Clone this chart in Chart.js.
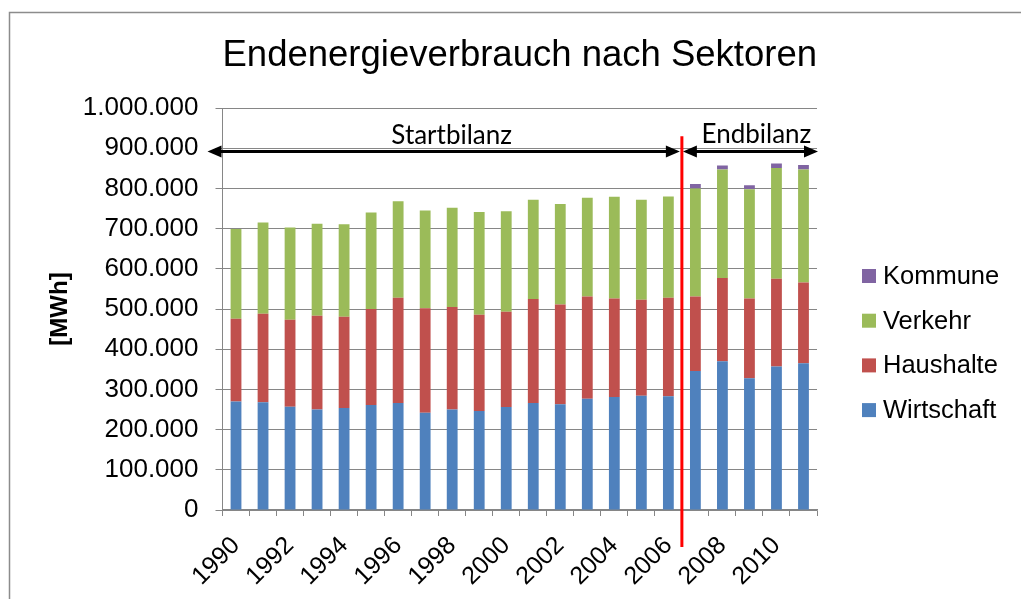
<!DOCTYPE html>
<html>
<head>
<meta charset="utf-8">
<script src="https://cdn.jsdelivr.net/npm/chart.js@4.4.1/dist/chart.umd.min.js"></script>
<style>
  html, body { margin: 0; padding: 0; background: #fff; overflow: hidden; }
  #wrap { width: 1021px; height: 599px; }
</style>
</head>
<body>
<div id="wrap"><canvas id="chart" width="1021" height="599"></canvas></div>
<script>
// Jahre und Werte in MWh
const years = ['1990','1991','1992','1993','1994','1995','1996','1997','1998','1999','2000',
  '2001','2002','2003','2004','2005','2006','2007','2008','2009','2010','2011'];
const wirtschaft = [270000,268000,257000,250000,254000,261000,266000,242000,250000,246000,256000,
  266000,263000,277000,281000,284000,283000,346000,370000,328000,357000,365000];
const haushalte = [206000,220000,216000,233000,227000,239000,262000,260000,255000,240000,237000,
  259000,248000,254000,245000,239000,245000,185000,207000,198000,218000,201000];
const verkehr = [223000,227000,230000,229000,230000,240000,240000,243000,247000,255000,250000,
  247000,250000,246000,253000,249000,252000,269000,270000,272000,276000,281000];
const kommune = [0,0,0,0,0,0,0,0,0,0,0,0,0,0,0,0,0,11000,10000,10000,11000,11000];

const yTicks = [0,100000,200000,300000,400000,500000,600000,700000,800000,900000,1000000];
const lastStartIndex = 16; // 2006 = letztes Jahr der Startbilanz
const arrowValue = 892000;

const fmt = v => String(v).replace(/\B(?=(\d{3})+(?!\d))/g, '.');
const FONT = "'Liberation Sans', Arial, sans-serif";

// Rahmen, Pfeile, rote Linie und Legende
const overlay = {
  id: 'overlay',
  beforeDraw(chart) {
    const ctx = chart.ctx;
    ctx.save();
    ctx.strokeStyle = '#8c8c8c';
    ctx.lineWidth = 1.5;
    ctx.beginPath();
    ctx.moveTo(9.5, 599);
    ctx.lineTo(9.5, 12.5);
    ctx.lineTo(1021, 12.5);
    ctx.stroke();
    ctx.restore();
  },
  afterDatasetsDraw(chart) {
    const ctx = chart.ctx;
    const x = chart.scales.x, y = chart.scales.y;
    const area = chart.chartArea;
    const split = (x.getPixelForValue(lastStartIndex) + x.getPixelForValue(lastStartIndex + 1)) / 2;
    const ay = y.getPixelForValue(arrowValue);

    const arrow = (x1, x2) => {
      ctx.save();
      ctx.strokeStyle = '#000';
      ctx.fillStyle = '#000';
      ctx.lineWidth = 3;
      ctx.beginPath();
      ctx.moveTo(x1 + 10, ay);
      ctx.lineTo(x2 - 10, ay);
      ctx.stroke();
      [[x1, 1], [x2, -1]].forEach(([tx, dir]) => {
        ctx.beginPath();
        ctx.moveTo(tx, ay);
        ctx.lineTo(tx + dir * 14, ay - 6);
        ctx.lineTo(tx + dir * 14, ay + 6);
        ctx.closePath();
        ctx.fill();
      });
      ctx.restore();
    };
    const s1 = area.left - 15, s2 = split - 2;
    const e1 = split + 1, e2 = area.right + 1;
    arrow(s1, s2);
    arrow(e1, e2);

    ctx.save();
    ctx.fillStyle = '#000';
    ctx.font = "26px Lato, 'Open Sans', sans-serif";
    ctx.textAlign = 'center';
    ctx.textBaseline = 'alphabetic';
    ctx.fillText('Startbilanz', (s1 + s2) / 2 + 8, ay - 7);
    ctx.fillText('Endbilanz', (e1 + e2) / 2 + 6, ay - 8);
    ctx.restore();

    ctx.save();
    ctx.strokeStyle = '#ff0000';
    ctx.lineWidth = 3;
    ctx.beginPath();
    ctx.moveTo(split, y.getPixelForValue(930000));
    ctx.lineTo(split, area.bottom + 37);
    ctx.stroke();
    ctx.restore();
  },
  afterDraw(chart) {
    const ctx = chart.ctx;
    const sets = chart.data.datasets.slice().reverse();
    ctx.save();
    ctx.font = '25.5px ' + FONT;
    ctx.textBaseline = 'middle';
    ctx.textAlign = 'left';
    sets.forEach((ds, i) => {
      const cy = 276 + i * 44.7;
      ctx.fillStyle = ds.backgroundColor;
      ctx.fillRect(862, cy - 7, 14, 14);
      ctx.fillStyle = '#000';
      ctx.fillText(ds.label, 883, cy + 1);
    });
    ctx.restore();
  }
};

new Chart(document.getElementById('chart'), {
  type: 'bar',
  data: {
    labels: years,
    datasets: [
      { label: 'Wirtschaft', data: wirtschaft, backgroundColor: '#4f81bd' },
      { label: 'Haushalte', data: haushalte, backgroundColor: '#c0504d' },
      { label: 'Verkehr', data: verkehr, backgroundColor: '#9bbb59' },
      { label: 'Kommune', data: kommune, backgroundColor: '#8064a2' }
    ]
  },
  options: {
    responsive: false,
    animation: false,
    devicePixelRatio: 1,
    layout: { padding: { left: 20, right: 204, top: 0, bottom: 10 } },
    datasets: { bar: { barPercentage: 0.4, categoryPercentage: 1 } },
    plugins: {
      legend: { display: false },
      tooltip: { enabled: false },
      title: {
        display: true,
        fullSize: false,
        text: 'Endenergieverbrauch nach Sektoren',
        color: '#000',
        font: { family: FONT, size: 37.5, weight: 'normal', lineHeight: 1.2 },
        padding: { top: 33, bottom: 30 }
      }
    },
    scales: {
      x: {
        stacked: true,
        grid: { display: true, drawOnChartArea: false, offset: true, tickLength: 6, tickColor: '#868686', tickWidth: 1 },
        border: { color: '#868686', width: 1.5 },
        ticks: {
          autoSkip: false,
          maxRotation: 45,
          minRotation: 45,
          padding: 15,
          color: '#000',
          font: { family: FONT, size: 25 },
          callback: (v, i) => (i % 2 === 0 ? years[i] : '')
        },
        afterFit: s => { s.height = 79; }
      },
      y: {
        stacked: true,
        min: 0,
        max: 1000000,
        afterBuildTicks: s => { s.ticks = yTicks.map(v => ({ value: v })); },
        grid: { color: '#868686', lineWidth: 1, tickLength: 7, tickColor: '#868686' },
        border: { color: '#868686', width: 1 },
        ticks: {
          padding: 17,
          color: '#000',
          font: { family: FONT, size: 26 },
          callback: v => fmt(v)
        },
        title: {
          display: true,
          text: '[MWh]',
          color: '#000',
          font: { family: FONT, size: 24, weight: 'bold', lineHeight: 1.2 },
          padding: { top: 25.6, bottom: 8 }
        },
        afterFit: s => { s.width = 202.5; }
      }
    }
  },
  plugins: [overlay]
});
</script>
</body>
</html>
